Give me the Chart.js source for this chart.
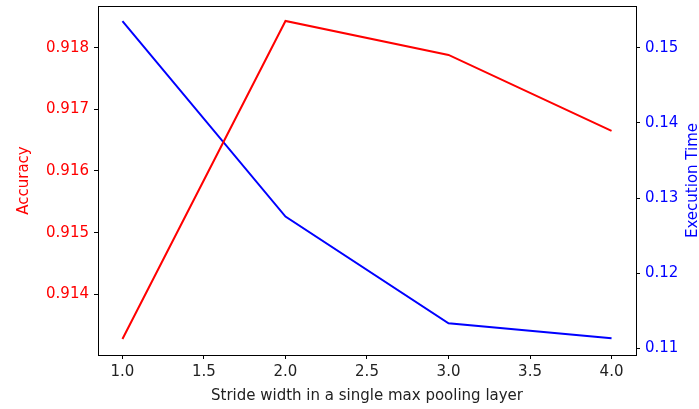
<!DOCTYPE html>
<html>
<head>
<meta charset="utf-8">
<script src="https://cdn.jsdelivr.net/npm/chart.js@4"></script>
<style>
html,body{margin:0;padding:0;background:#fff;}
#wrap{width:699px;height:409px;position:relative;}
</style>
</head>
<body>
<div id="wrap"><canvas id="c" width="699" height="409"></canvas></div>
<script>
const strideWidths = [1, 2, 3, 4];
const accuracy = [0.913275, 0.918433, 0.917882, 0.916649];
const executionTime = [0.15355, 0.12753, 0.11333, 0.11133];
const xTickValues = [1.0, 1.5, 2.0, 2.5, 3.0, 3.5, 4.0];
const accTickValues = [0.914, 0.915, 0.916, 0.917, 0.918];
const timeTickValues = [0.11, 0.12, 0.13, 0.14, 0.15];
const rightTitle = 'Execution Time';

const FONT = 'DejaVu Sans';
const FS = 15;
const frame = {
  id: 'frame',
  afterDraw(chart) {
    const {ctx, chartArea: a} = chart;
    ctx.save();
    ctx.strokeStyle = '#000';
    ctx.lineWidth = 1;
    ctx.strokeRect(Math.round(a.left) + 0.5, Math.round(a.top) + 0.5,
                   Math.round(a.right - a.left), Math.round(a.bottom - a.top));
    // right axis title, reading bottom-to-top like matplotlib
    ctx.translate(693, (a.top + a.bottom) / 2);
    ctx.rotate(-Math.PI / 2);
    ctx.fillStyle = '#0000ff';
    ctx.font = FS + 'px "' + FONT + '"';
    ctx.textAlign = 'center';
    ctx.textBaseline = 'middle';
    ctx.fillText(rightTitle, 0, 0);
    ctx.restore();
  }
};

new Chart(document.getElementById('c'), {
  type: 'line',
  data: {
    datasets: [
      {
        label: 'Accuracy',
        data: strideWidths.map((x, i) => ({x, y: accuracy[i]})),
        borderColor: '#ff0000',
        borderWidth: 2,
        pointRadius: 0,
        tension: 0,
        yAxisID: 'yAcc'
      },
      {
        label: 'Execution Time',
        data: strideWidths.map((x, i) => ({x, y: executionTime[i]})),
        borderColor: '#0000ff',
        borderWidth: 2,
        pointRadius: 0,
        tension: 0,
        yAxisID: 'yTime'
      }
    ]
  },
  options: {
    responsive: false,
    animation: false,
    layout: {padding: {top: 6, left: 0, right: 0, bottom: 0}},
    plugins: {legend: {display: false}, tooltip: {enabled: false}},
    scales: {
      x: {
        type: 'linear',
        min: 0.85,
        max: 4.15,
        afterBuildTicks(s) { s.ticks = xTickValues.map(v => ({value: v})); },
        afterFit(s) { s.height = 54; s.paddingLeft = 0; s.paddingRight = 0; },
        ticks: {
          color: '#222',
          font: {family: FONT, size: FS},
          padding: 4,
          maxRotation: 0,
          autoSkip: false,
          callback: v => Number(v).toFixed(1)
        },
        grid: {drawOnChartArea: false, drawTicks: true, tickLength: 4, color: '#000'},
        border: {display: true, color: '#000'},
        title: {
          display: true,
          text: 'Stride width in a single max pooling layer',
          color: '#222',
          font: {family: FONT, size: FS, lineHeight: 1},
          padding: {top: 0, bottom: 5}
        }
      },
      yAcc: {
        type: 'linear',
        position: 'left',
        min: 0.913015,
        max: 0.918676,
        afterBuildTicks(s) { s.ticks = accTickValues.map(v => ({value: v})); },
        afterFit(s) { s.width = 98; s.paddingTop = 0; s.paddingBottom = 0; },
        ticks: {
          color: '#ff0000',
          font: {family: FONT, size: FS},
          padding: 5,
          autoSkip: false,
          callback: v => Number(v).toFixed(3)
        },
        grid: {drawOnChartArea: false, drawTicks: true, tickLength: 4, color: '#000'},
        border: {display: true, color: '#000'},
        title: {
          display: true,
          text: 'Accuracy',
          color: '#ff0000',
          font: {family: FONT, size: FS, lineHeight: 1},
          padding: {top: 17, bottom: 0}
        }
      },
      yTime: {
        type: 'linear',
        position: 'right',
        min: 0.10911,
        max: 0.15555,
        afterBuildTicks(s) { s.ticks = timeTickValues.map(v => ({value: v})); },
        afterFit(s) { s.width = 63; s.paddingTop = 0; s.paddingBottom = 0; },
        ticks: {
          color: '#0000ff',
          font: {family: FONT, size: FS},
          padding: 5,
          autoSkip: false,
          callback: v => Number(v).toFixed(2)
        },
        grid: {drawOnChartArea: false, drawTicks: true, tickLength: 4, color: '#000'},
        border: {display: true, color: '#000'}
      }
    }
  },
  plugins: [frame]
});
</script>
</body>
</html>
